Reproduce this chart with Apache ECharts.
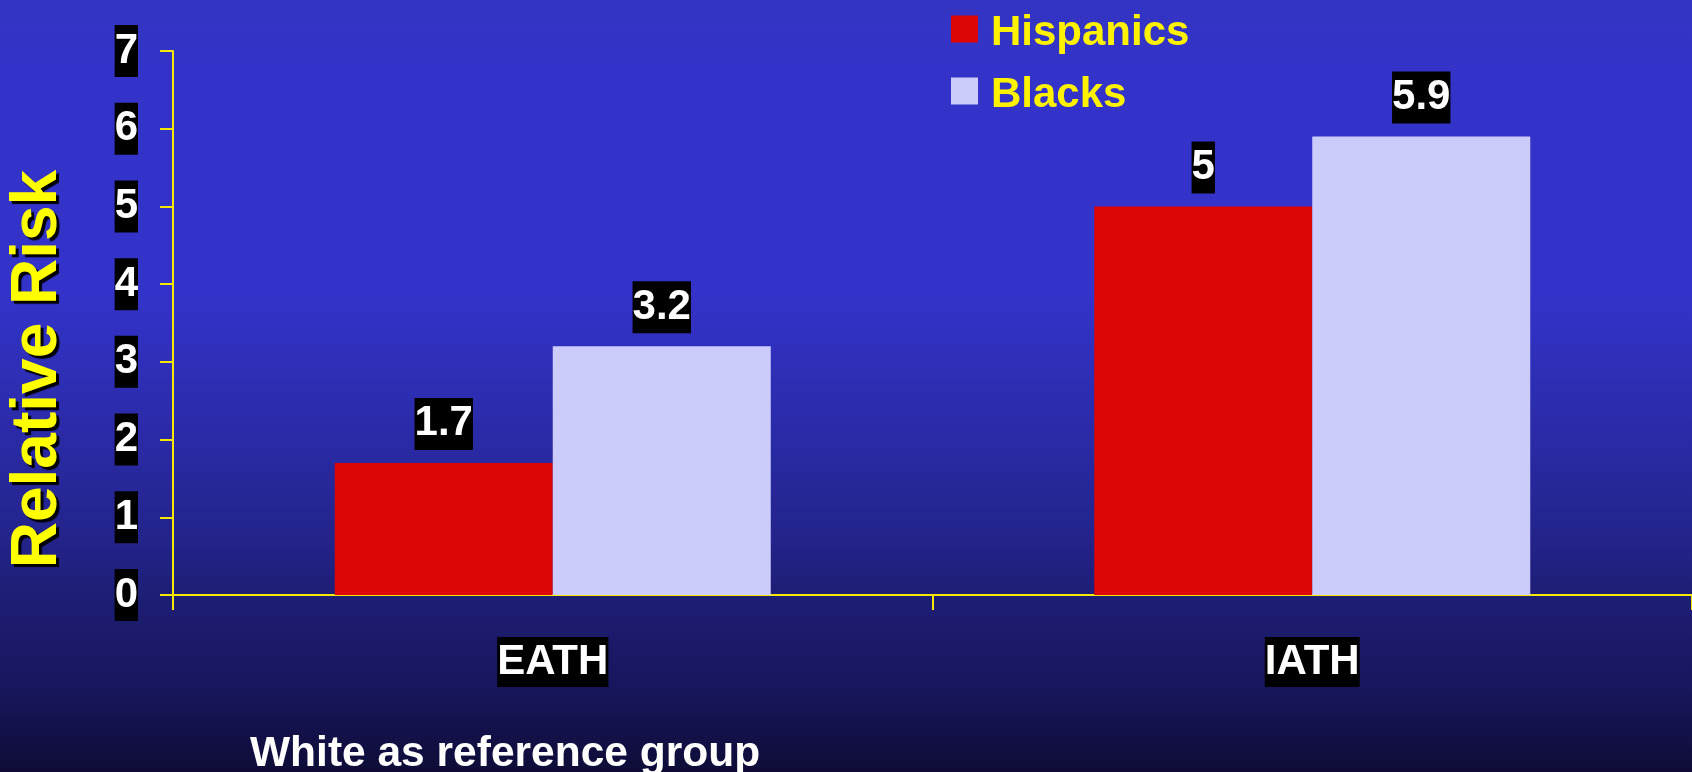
<!DOCTYPE html>
<html>
<head>
<meta charset="utf-8">
<script src="https://cdn.jsdelivr.net/npm/echarts@6/dist/echarts.min.js"></script>
<style>
  html, body { margin: 0; padding: 0; }
  #chart { width: 1692px; height: 772px; }
</style>
</head>
<body>
<div id="chart"></div>
<script>
// Relative risk of atherosclerosis, white population as reference group
const categories = ['EATH', 'IATH'];
const hispanics = [1.7, 5];
const blacks = [3.2, 5.9];
const seriesNames = ['Hispanics', 'Blacks'];
const yTicks = [0, 1, 2, 3, 4, 5, 6, 7];
const yAxisTitle = 'Relative Risk';
const footnote = 'White as reference group';

const FONT = '"Liberation Sans", Arial, Helvetica, sans-serif';
const AXIS_YELLOW = '#F6E800';
// square legend swatch sitting slightly above the text's centre line
const SWATCH = 'path://M0,0H27V27H0Z M0,34.95H0.05V35H0Z';

const boxLabel = {
  show: true,
  position: 'top',
  distance: 13,
  color: '#FFFFFF',
  fontFamily: FONT,
  fontWeight: 'bold',
  fontSize: 42,
  lineHeight: 52,
  backgroundColor: '#000000',
  padding: [0, 0, 0, 0]
};

const chart = echarts.init(document.getElementById('chart'));
chart.setOption({
  animation: false,
  backgroundColor: {
    type: 'linear', x: 0, y: 0, x2: 0, y2: 1,
    colorStops: [
      { offset: 0.00, color: '#3434C2' },
      { offset: 0.10, color: '#3333CA' },
      { offset: 0.38, color: '#3333CA' },
      { offset: 0.55, color: '#2B2BAA' },
      { offset: 0.70, color: '#23238A' },
      { offset: 0.77, color: '#1E1E76' },
      { offset: 0.90, color: '#17155A' },
      { offset: 1.00, color: '#0E0C36' }
    ]
  },
  grid: { left: 173, right: -5, top: 51, bottom: 177, containLabel: false },
  legend: {
    data: seriesNames,
    orient: 'vertical',
    left: 951,
    top: 5,
    padding: 0,
    itemWidth: 27,
    itemHeight: 35,
    itemGap: 6,
    icon: SWATCH,
    textStyle: {
      color: '#FFF200',
      fontFamily: FONT,
      fontWeight: 'bold',
      fontSize: 42,
      lineHeight: 48,
      padding: [8, 0, 0, 8]
    }
  },
  xAxis: {
    type: 'category',
    data: categories,
    boundaryGap: true,
    axisLine: { lineStyle: { color: AXIS_YELLOW, width: 2 } },
    axisTick: { show: true, length: 15, lineStyle: { color: AXIS_YELLOW, width: 2 } },
    axisLabel: {
      margin: 42,
      color: '#FFFFFF',
      fontFamily: FONT,
      fontWeight: 'bold',
      fontSize: 42,
      lineHeight: 50,
      backgroundColor: '#000000'
    },
    splitLine: { show: false }
  },
  yAxis: {
    type: 'value',
    min: yTicks[0],
    max: yTicks[yTicks.length - 1],
    interval: 1,
    axisLine: { show: true, lineStyle: { color: AXIS_YELLOW, width: 2 } },
    axisTick: { show: true, length: 13, lineStyle: { color: AXIS_YELLOW, width: 2 } },
    axisLabel: {
      margin: 35,
      color: '#FFFFFF',
      fontFamily: FONT,
      fontWeight: 'bold',
      fontSize: 42,
      lineHeight: 52,
      backgroundColor: '#000000',
      formatter: function (v) { return String(v); }
    },
    splitLine: { show: false }
  },
  series: [
    {
      name: seriesNames[0],
      type: 'bar',
      data: hispanics,
      barWidth: 218,
      barGap: '0%',
      itemStyle: { color: '#DD0505' },
      label: boxLabel,
      z: 1
    },
    {
      name: seriesNames[1],
      type: 'bar',
      data: blacks,
      barWidth: 218,
      barGap: '0%',
      itemStyle: { color: '#CCCCFC' },
      label: boxLabel,
      z: 1
    }
  ],
  graphic: [
    {
      type: 'text',
      x: 38,
      y: 369,
      rotation: Math.PI / 2,
      style: {
        text: yAxisTitle,
        fill: '#FFFF00',
        font: 'bold 64px ' + FONT,
        textAlign: 'center',
        textVerticalAlign: 'middle',
        textShadowColor: '#000000',
        textShadowBlur: 1,
        textShadowOffsetX: 3,
        textShadowOffsetY: 3
      }
    },
    {
      type: 'text',
      x: 250,
      y: 754,
      style: {
        text: footnote,
        fill: '#FFFFFF',
        font: 'bold 42.5px ' + FONT,
        textAlign: 'left',
        textVerticalAlign: 'middle'
      }
    }
  ]
});
</script>
</body>
</html>
